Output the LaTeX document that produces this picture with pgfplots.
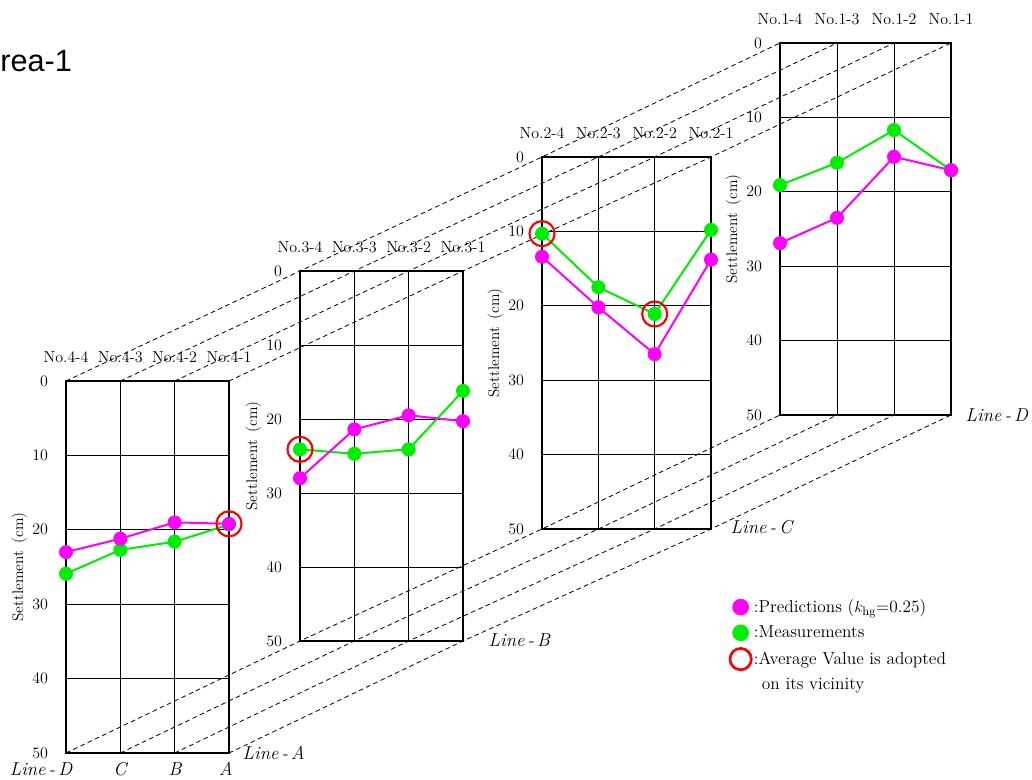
\documentclass[border=0pt]{standalone}
\usepackage{pgfplots}
\pgfplotsset{compat=1.18}
\usepackage{fontspec}
\newfontfamily\titlefont{Liberation Sans}
\definecolor{mag}{RGB}{255,0,255}
\definecolor{lime}{RGB}{0,238,0}
\definecolor{myred}{RGB}{255,0,0}
\tikzset{lbl/.style={font=\fontsize{14}{16}\selectfont\itshape}}
\pgfplotsset{
  sec/.style={scale only axis, anchor=south west, clip=false,
    xmin=0, xmax=3, ymin=0, ymax=50, y dir=reverse,
    xtick={0,1,2,3}, ytick={0,10,20,30,40,50},
    grid=major, major grid style={black, line width=0.6pt},
    axis line style={line width=2pt}, major tick length=0pt,
    xticklabel pos=top,
    yticklabel style={font=\fontsize{11.5}{13}\selectfont, xshift=-10pt},
    xticklabel style={font=\fontsize{12}{14}\selectfont, yshift=10pt},
    ylabel={Settlement\enspace(cm)},
    ylabel style={font=\fontsize{11.5}{13}\selectfont, at={(axis description cs:0,0.5)}, anchor=center, yshift=35pt},
  },
  pred/.style={color=mag, line width=1.5pt, mark=*, mark size=4.5pt},
  meas/.style={color=lime, line width=1.5pt, mark=*, mark size=4.5pt},
  avg/.style={only marks, color=myred, mark=o, mark size=9.4pt, mark options={line width=1.6pt}},
}
\begin{document}
\begin{tikzpicture}
\path[use as bounding box] (0,0) rectangle (774pt,585pt);
\clip (0,0) rectangle (774pt,585pt);
\begin{axis}[at={(0,0)}, anchor=south west, scale only axis, width=774pt, height=585pt,
  xmin=0, xmax=1032, ymin=0, ymax=780, y dir=reverse, hide axis, clip=false,
  legend style={at={(axis cs:725,594)}, anchor=north west, draw=none, fill=none,
    font=\fontsize{13}{15}\selectfont, row sep=4.5pt},
  legend cell align=left]
% dashed connecting lines (tops)
\addplot[forget plot, black, line width=0.6pt, dash pattern=on 3.5pt off 2.5pt] coordinates {(66,381) (300,271) (542,157) (780,43)};
\addplot[forget plot, black, line width=0.6pt, dash pattern=on 3.5pt off 2.5pt] coordinates {(120.33,381) (354.33,271) (598.33,157) (837,43)};
\addplot[forget plot, black, line width=0.6pt, dash pattern=on 3.5pt off 2.5pt] coordinates {(174.67,381) (408.67,271) (654.67,157) (894,43)};
\addplot[forget plot, black, line width=0.6pt, dash pattern=on 3.5pt off 2.5pt] coordinates {(229,381) (463,271) (711,157) (951,43)};
% dashed connecting lines (bottoms)
\addplot[forget plot, black, line width=0.6pt, dash pattern=on 3.5pt off 2.5pt] coordinates {(66,753) (300,641) (542,529) (780,415)};
\addplot[forget plot, black, line width=0.6pt, dash pattern=on 3.5pt off 2.5pt] coordinates {(120.33,753) (354.33,641) (598.33,529) (837,415)};
\addplot[forget plot, black, line width=0.6pt, dash pattern=on 3.5pt off 2.5pt] coordinates {(174.67,753) (408.67,641) (654.67,529) (894,415)};
\addplot[forget plot, black, line width=0.6pt, dash pattern=on 3.5pt off 2.5pt] coordinates {(229,753) (463,641) (711,529) (951,415)};
% line labels
\node[anchor=west, lbl] at (axis cs:238,753) {Line\,-\,A};
\node[anchor=west, lbl] at (axis cs:484,640) {Line\,-\,B};
\node[anchor=west, lbl] at (axis cs:726,527) {Line\,-\,C};
\node[anchor=west, lbl] at (axis cs:961,415) {Line\,-\,D};
\node[lbl] at (axis cs:41,769) {Line\,-\,D};
\node[lbl] at (axis cs:120,769) {C};
\node[lbl] at (axis cs:175,769) {B};
\node[lbl] at (axis cs:226,769) {A};
% legend
\addlegendimage{only marks, mark=*, color=mag, mark size=6pt}
\addlegendentry{:Predictions ($k_{\mathrm{hg}}$=0.25)}
\addlegendimage{only marks, mark=*, color=lime, mark size=6pt}
\addlegendentry{:Measurements}
\addlegendimage{only marks, mark=o, color=myred, mark size=8pt, mark options={line width=2pt}}
\addlegendentry{:Average Value is adopted}
\addlegendimage{empty legend}
\addlegendentry{\hspace{6pt}on its vicinity}
\end{axis}

% No.4
\begin{axis}[sec, at={(49.5pt,20.25pt)}, width=122.25pt, height=279pt,
  xticklabels={No.4-4, No.4-3, No.4-2, No.4-1}]
\addplot[meas] coordinates {(0,25.9) (1,22.7) (2,21.6) (3,19.3)};
\addplot[pred] coordinates {(0,23.0) (1,21.2) (2,19.0) (3,19.2)};
\addplot[avg] coordinates {(3,19.2)};
\end{axis}
% No.3
\begin{axis}[sec, at={(225pt,104.25pt)}, width=122.25pt, height=277.5pt,
  xticklabels={No.3-4, No.3-3, No.3-2, No.3-1}]
\addplot[meas] coordinates {(0,24.1) (1,24.7) (2,24.1) (3,16.2)};
\addplot[pred] coordinates {(0,28.0) (1,21.4) (2,19.5) (3,20.3)};
\addplot[avg] coordinates {(0,24.1)};
\end{axis}
% No.2
\begin{axis}[sec, at={(406.5pt,188.25pt)}, width=126.75pt, height=279pt,
  xticklabels={No.2-4, No.2-3, No.2-2, No.2-1}]
\addplot[meas] coordinates {(0,10.3) (1,17.5) (2,21.1) (3,9.8)};
\addplot[pred] coordinates {(0,13.4) (1,20.2) (2,26.5) (3,13.8)};
\addplot[avg] coordinates {(0,10.3) (2,21.1)};
\end{axis}
% No.1
\begin{axis}[sec, at={(585pt,273.75pt)}, width=128.25pt, height=279pt,
  xticklabels={No.1-4, No.1-3, No.1-2, No.1-1}]
\addplot[meas] coordinates {(0,19.1) (1,16.1) (2,11.7) (3,17.1)};
\addplot[pred] coordinates {(0,26.9) (1,23.5) (2,15.3) (3,17.1)};
\end{axis}

\node[anchor=base west, inner sep=0pt, font=\titlefont\fontsize{23}{26}\selectfont] at (-15.3pt,531pt) {Area-1};
\end{tikzpicture}
\end{document}
